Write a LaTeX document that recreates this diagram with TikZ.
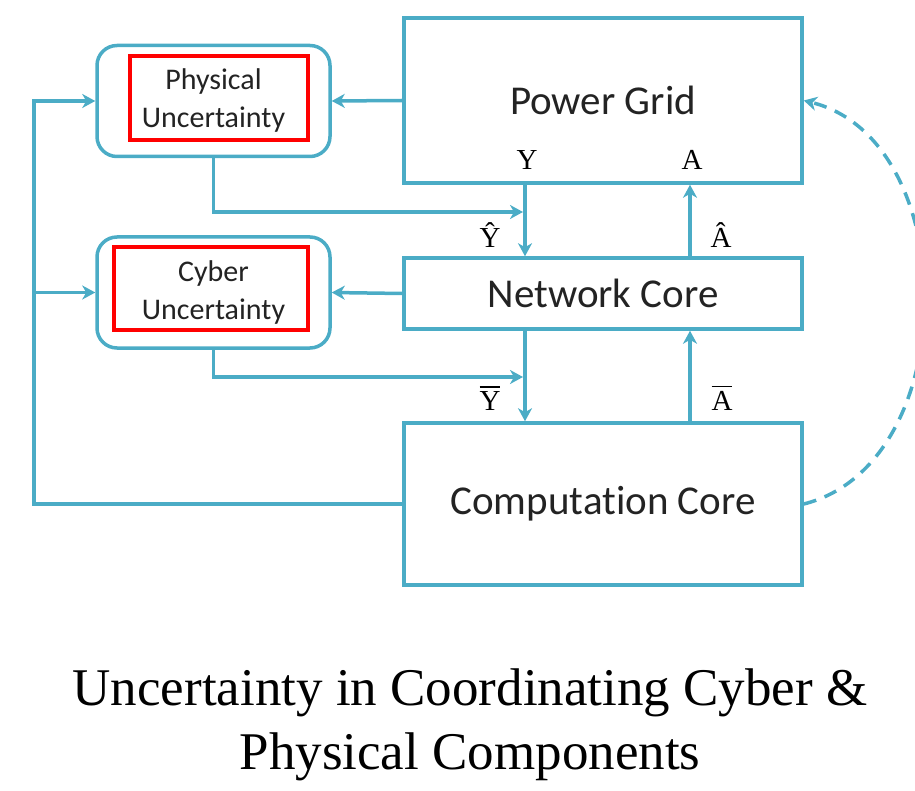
\documentclass[tikz,border=0pt]{standalone}
\usepackage{fontspec}
\setmainfont{Liberation Serif}
\newfontfamily\calfont[Ligatures={NoCommon}]{Carlito}
\usetikzlibrary{arrows.meta}
\definecolor{lineblue}{RGB}{75,172,198}
\definecolor{textgray}{RGB}{35,35,35}
\newcommand{\barsig}[1]{\vbox{\hrule height 1.6pt\kern 3.5pt\hbox{#1}}}

\begin{document}
\begin{tikzpicture}[x=1pt,y=-1pt,
	>={Stealth[length=13pt,width=14pt,inset=4pt]},
	core/.style={draw=lineblue,line width=3.5pt,minimum width=398pt,text=textgray,font=\calfont\fontsize{41}{41}\selectfont},
	unc/.style={draw=lineblue,line width=3.5pt,rounded corners=20pt,minimum width=233pt,minimum height=111pt,align=center,text=textgray,font=\calfont\fontsize{30}{38}\selectfont},
	redframe/.style={draw=red,line width=4pt,inner sep=0pt},
	flow/.style={lineblue,line width=3.5pt,->},
	sig/.style={font=\fontsize{29}{29}\selectfont}]
	
	\useasboundingbox (0,0) rectangle (915,791);
	
	\node[core,minimum height=165pt] (grid) at (603,100.5) {Power Grid};
	\node[core,minimum height=71pt]  (net)  at (603,293.5) {Network Core};
	\node[core,minimum height=162pt] (comp) at (603,504)   {Computat\kern0pt ion Core};
	
	\node[redframe,minimum width=178pt,minimum height=84pt] (physR) at (219,98)    {};
	\node[redframe,minimum width=194pt,minimum height=83pt] (cybR)  at (211,288.5) {};
	\node[unc] (physU) at (213.5,101)   {Physical\\Uncertainty};
	\node[unc] (cybU)  at (213.5,292.5) {Cyber\\Uncertainty};
	
	\coordinate (ycol)  at (525,0);   % Y line
	\coordinate (acol)  at (690,0);   % A line
	\coordinate (lcol)  at (34,0);    % feedback line
	\coordinate (pjoin) at (523,212);
	\coordinate (cjoin) at (523,377);
	
	\draw[flow] (grid.south -| ycol) -- (net.north -| ycol);
	\draw[flow] (net.north -| acol)  -- (grid.south -| acol);
	\draw[flow] (net.south -| ycol)  -- (comp.north -| ycol);
	\draw[flow] (comp.north -| acol) -- (net.south -| acol);
	\draw[flow] (grid.west) -- (physU.east);
	\draw[flow] (net.west)  -- (cybU.east);
	\draw[flow] (physU.south) |- (pjoin);
	\draw[flow] (cybU.south)  |- (cjoin);
	\draw[flow] (comp.west) -| (lcol |- physU.west) -- (physU.west);
	\draw[flow] (lcol |- cybU.west) -- (cybU.west);
	\draw[flow,dash pattern=on 13pt off 9pt] (comp.east)
		.. controls +(160,-40) and +(160,40) .. (grid.east);
	
	\path
		(527,160) node[sig] (ylab) {Y}
		(692,160) node[sig] (alab) {A}
		(490,235) node[sig] (yhat) {\^{Y}}
		(721,235) node[sig] (ahat) {\^{A}}
		(490,398) node[sig] (ybar) {\barsig{Y}}
		(722,398) node[sig] (abar) {\barsig{A}};
	
	\node[font=\fontsize{53}{64}\selectfont,align=center] (caption) at (470,725)
		{Uncertainty in Coordinating Cyber \&\\Physical Components};
	
\end{tikzpicture}
\end{document}
